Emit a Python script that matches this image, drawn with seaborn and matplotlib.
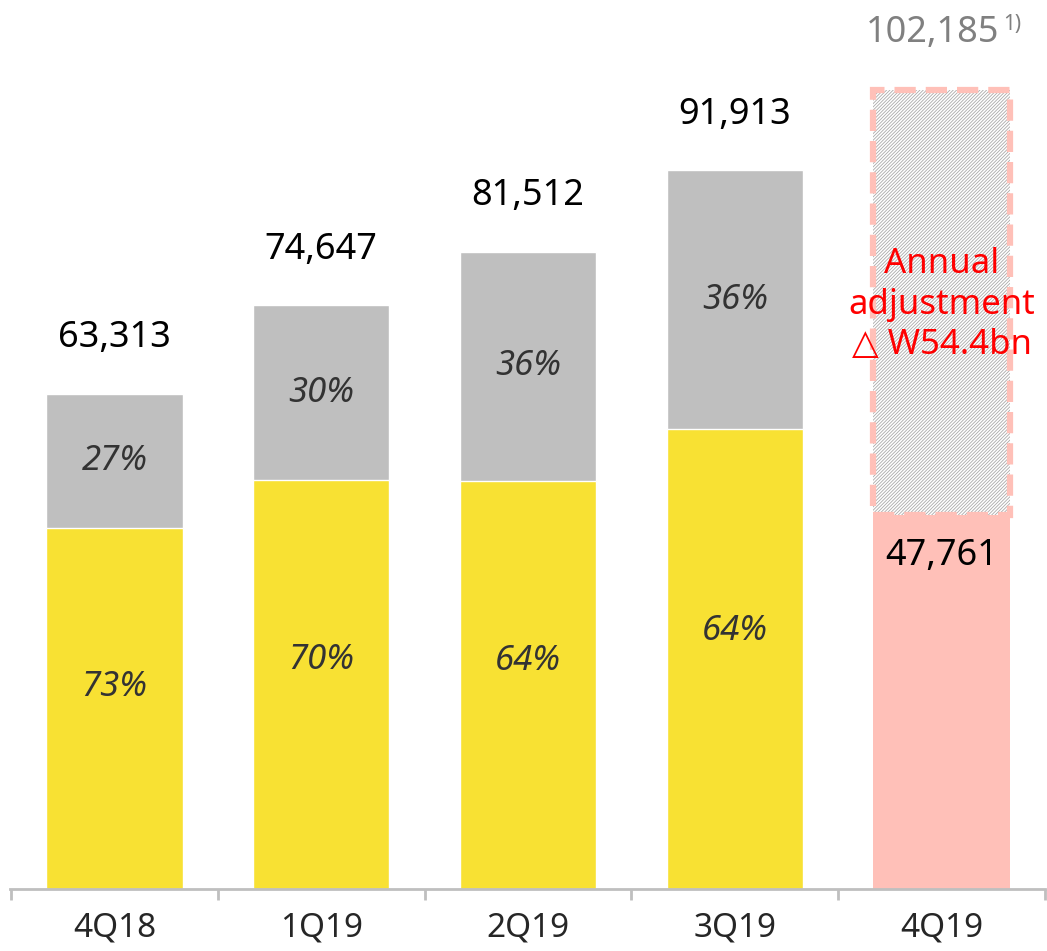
import matplotlib
matplotlib.use('Agg')
import pandas as pd
import seaborn as sns
import matplotlib.pyplot as plt

# dados
quarters = ['4Q18', '1Q19', '2Q19', '3Q19', '4Q19']
totals = [63313, 74647, 81512, 91913]
yellow_pct = [73, 70, 64, 64]
grey_pct = [27, 30, 36, 36]
q4_total = 102185
q4_value = 47761
q4_note = 'Annual\nadjustment\n\u25b3 W54.4bn'

sns.set_theme(style='white')
plt.rcParams['font.family'] = ['Noto Sans', 'DejaVu Sans']
plt.rcParams['hatch.linewidth'] = 0.6
plt.rcParams['hatch.color'] = '#aaaaaa'

df = pd.DataFrame({'quarter': quarters[:4], 'total': totals,
                   'yellow': [t * p / 100 for t, p in zip(totals, yellow_pct)]})

fig = plt.figure(figsize=(10.47, 9.51), dpi=100)
ax = fig.add_axes([10 / 1047, 1 - 889 / 951, 1035 / 1047, 889 / 951])

sns.barplot(data=df, x='quarter', y='total', order=quarters, color='#bfbfbf',
            saturation=1, width=0.66, ax=ax)
sns.barplot(data=df, x='quarter', y='yellow', order=quarters, color='#f8e133',
            saturation=1, width=0.66, ax=ax)

# 4Q19: barra ajustada + anual (tracejada)
ax.bar(4, q4_total - q4_value, bottom=q4_value, width=0.66, color='white',
       hatch='//////////', edgecolor='#aaaaaa', linewidth=0)
ax.bar(4, q4_value, width=0.66, color='#ffc0b8', linewidth=0)
ax.bar(4, q4_total - q4_value, bottom=q4_value, width=0.66, fill=False,
       edgecolor='#ffc0b8', linewidth=4.5, linestyle=(0, (3.4, 1.6)))

# rótulos
for i, (t, yp, gp) in enumerate(zip(totals, yellow_pct, grey_pct)):
    ax.annotate(f'{t:,}', (i, t), xytext=(0, 40), textcoords='offset points',
                ha='center', va='center', fontsize=26, color='black')
    yv = t * yp / 100
    ax.text(i, yv * 0.56, f'{yp}%', ha='center', va='center', fontsize=25,
            style='italic', color='#333333')
    ax.text(i, yv + (t - yv) * 0.5, f'{gp}%', ha='center', va='center',
            fontsize=25, style='italic', color='#333333')

ax.annotate(f'{q4_value:,}', (4, q4_value), xytext=(0, -29),
            textcoords='offset points', ha='center', va='center',
            fontsize=26, color='black')
ax.annotate(f'{q4_total:,}', (4.278, q4_total), xytext=(0, 41),
            textcoords='offset points', ha='right', va='center',
            fontsize=26, color='#808080')
ax.annotate('1)', (4.30, q4_total), xytext=(0, 47),
            textcoords='offset points', ha='left', va='center',
            fontsize=15, color='#808080')
ax.text(4.0, 74700, q4_note, ha='center', va='center', fontsize=25,
        color='#ff0000', linespacing=1.25)

ax.set_xlim(-0.505, 4.495)
ax.set_ylim(0, 113680)
ax.set_xlabel('')
ax.set_ylabel('')
ax.set_yticks([])
sns.despine(ax=ax, left=True)
ax.spines['bottom'].set_color('#bfbfbf')
ax.spines['bottom'].set_linewidth(2)
ax.set_xticks(range(5))
ax.set_xticklabels(quarters, fontsize=24)
ax.tick_params(axis='x', which='major', length=0, pad=16)
ax.set_xticks([i - 0.5 for i in range(6)], minor=True)
ax.tick_params(axis='x', which='minor', length=8, width=2, color='#bfbfbf',
               direction='out', bottom=True)

fig.savefig('out.png', dpi=100)
